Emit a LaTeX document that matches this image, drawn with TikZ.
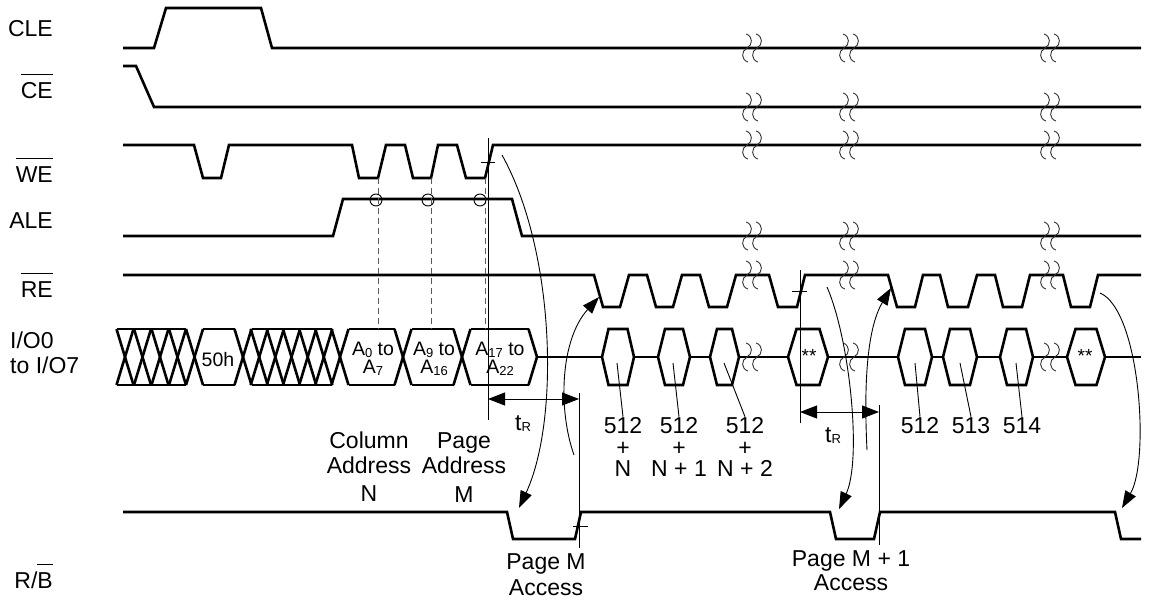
\documentclass[tikz,border=0pt]{standalone}
\usepackage{fontspec}
\setmainfont{Liberation Sans}
\usetikzlibrary{arrows.meta}
\newcommand\sbs[1]{\raisebox{-1.5pt}{\fontsize{13}{13}\selectfont #1}}
\newcommand\ovl[1]{\setbox0\hbox{#1}\rlap{\rule[23pt]{\wd0}{1.1pt}}\box0}
\begin{document}
\begin{tikzpicture}[x=1pt,y=-1pt,
  sig/.style={line width=2.6pt,line join=miter},
  thin/.style={line width=0.9pt},
  lab/.style={inner sep=0pt,font=\fontsize{23}{26}\selectfont},
  boxt/.style={inner sep=0pt,align=center,font=\fontsize{19.5}{18}\selectfont},
  arr/.style={thin,-{Triangle[length=17pt,width=12pt]}},
  darr/.style={thin,{Triangle[length=17pt,width=13pt]}-{Triangle[length=17pt,width=13pt]}},
  brkline/.style={line width=0.9pt,black!80},
  dsh/.style={line width=1pt,black!65,dash pattern=on 6pt off 4pt},
  brk/.pic={
    \draw[brkline] (-6,-14) .. controls (1,-12) and (1,-3) .. (-5,0) .. controls (-11,3) and (-11,12) .. (-4,14);
    \draw[brkline] (4,-14) .. controls (11,-12) and (11,-3) .. (5,0) .. controls (-1,3) and (-1,12) .. (6,14);
  }]
\fill[white] (0,0) rectangle (1149,600);
\useasboundingbox (0,0) rectangle (1149,600);

% signal names
\node[lab,anchor=base east] (lcle) at (53,36) {CLE};
\node[lab,anchor=base east] (lce) at (53,98) {\ovl{CE}};
\node[lab,anchor=base east] (lwe) at (53,182) {\ovl{WE}};
\node[lab,anchor=base east] (lale) at (53,228) {ALE};
\node[lab,anchor=base east] (lre) at (53,297) {\ovl{RE}};
\node[lab,anchor=base west] (lio1) at (10,348) {I/O0};
\node[lab,anchor=base west] (lio2) at (10,373) {to I/O7};
\node[lab,anchor=base east] (lrb) at (53,588) {R/\ovl{B}};

% signals
\draw[sig] (123,48) -- (154,48) -- (166,8) -- (261,8) -- (272,48) -- (1141,48);
\draw[sig] (123,66) -- (136,66) -- (154,107) -- (1141,107);
\draw[sig] (123,145) -- (194,145) -- (203,178) -- (221,178) -- (229,145) -- (352,145) -- (359,178) -- (378,178) -- (386,145) -- (405,145) -- (413,178) -- (431,178) -- (438,145) -- (457,145) -- (466,178) -- (485,178) -- (493,145) -- (1141,145);
\draw[sig] (123,236) -- (333,236) -- (343,199) -- (512,199) -- (522,236) -- (1141,236);
\draw[sig] (123,275) -- (594,275) -- (603,307) -- (620,307) -- (629,275) -- (647,275) -- (656,307) -- (673,307) -- (682,275) -- (700,275) -- (709,307) -- (727,307) -- (736,275) -- (769,275) -- (778,307) -- (797,307) -- (805,275) -- (888,275) -- (897,307) -- (915,307) -- (923,275) -- (940,275) -- (948,307) -- (968,307) -- (977,275) -- (995,275) -- (1003,307) -- (1022,307) -- (1030,275) -- (1063,275) -- (1071,307) -- (1090,307) -- (1098,275) -- (1141,275);
\draw[sig] (123,512) -- (507,512) -- (513,539) -- (575,539) -- (581,512) -- (830,512) -- (836,539) -- (874,539) -- (880,512) -- (1115,512) -- (1121,539) -- (1141,539);

% bus
\foreach \c in {125,142.5,160,177.5,194.5,243,259.2,275.3,291.5,307.7,323.8,340,403,462}{
  \draw[sig] (\c-8.5,329) -- (\c+8.5,385);
  \draw[sig] (\c-8.5,385) -- (\c+8.5,329);
}
\foreach \a/\b in {116.5/186,203/234.5,251.5/331.5,348.5/394.5,411.5/453.5,470.5/528.5}{
  \draw[sig] (\a,329) -- (\b,329);
  \draw[sig] (\a,385) -- (\b,385);
}
\draw[sig] (528.5,329) -- (537,357) -- (528.5,385);
\draw[sig] (537,357) -- (1141,357);
\foreach \l/\r/\s in {602/634/6.5,658/690/7,710/739/7,788/828/8.5,898/932/7,943/977/7,1000/1033/7,1067/1105/8.5}{
  \filldraw[sig,fill=white] (\l,357) -- (\l+\s,329) -- (\r-\s,329) -- (\r,357) -- (\r-\s,385) -- (\l+\s,385) -- cycle;
}

% box texts
\node[boxt,anchor=base] (t50) at (218,366) {50h};
\node[boxt] (ta0) at (373,359) {A\sbs{0} to\\A\sbs{7}};
\node[boxt] (ta9) at (434,359) {A\sbs{9} to\\A\sbs{16}};
\node[boxt] (ta17) at (500,359) {A\sbs{17} to\\A\sbs{22}};
\node[inner sep=0pt,font=\fontsize{19}{19}\selectfont,anchor=base] (st1) at (809,362) {**};
\node[inner sep=0pt,font=\fontsize{19}{19}\selectfont,anchor=base] (st2) at (1085,362) {**};

% break marks
\foreach \x in {752,849,1050}{
  \foreach \y in {48,107,145,236,275,357}{
    \pic at (\x,\y) {brk};
  }
}

% dashed lines and circles
\foreach \x/\cx in {378/376,431/428,485/480}{
  \draw[dsh] (\x,178) -- (\x,329);
  \draw[thin] (\cx,200) circle (6);
}

% vertical reference lines and ticks
\coordinate (v1t) at (488,138); \coordinate (v1b) at (488,420);
\draw[thin] (v1t) -- (v1b);
\draw[thin] (481,162) -- (495,162);
\coordinate (v2t) at (579,393); \coordinate (v2b) at (579,548);
\draw[thin] (v2t) -- (v2b);
\draw[thin] (573,526) -- (588,526);
\coordinate (v3t) at (800,270); \coordinate (v3b) at (800,423);
\draw[thin] (v3t) -- (v3b);
\draw[thin] (792,291) -- (807,291);
\coordinate (v4t) at (879,405); \coordinate (v4b) at (879,545);
\draw[thin] (v4t) -- (v4b);

% tR arrows
\coordinate (r1a) at (488,399); \coordinate (r1b) at (579,399);
\draw[darr] (r1a) -- (r1b);
\coordinate (r2a) at (800,412); \coordinate (r2b) at (879,412);
\draw[darr] (r2a) -- (r2b);
\node[lab,anchor=base west] (tr1) at (515,430) {t\sbs{R}};
\node[lab,anchor=base west] (tr2) at (825,442) {t\sbs{R}};

% curved arrows
\coordinate (ca0) at (502,155); \coordinate (ca1) at (519,508);
\draw[arr] (ca0) .. controls (555,250) and (560,420) .. (ca1);
\coordinate (cb0) at (574,455); \coordinate (cb1) at (599,297);
\draw[arr] (cb0) .. controls (558,410) and (560,340) .. (cb1);
\coordinate (cc0) at (827,287); \coordinate (cc1) at (839,509);
\draw[arr] (cc0) .. controls (850,340) and (862,460) .. (cc1);
\coordinate (cd0) at (867,450); \coordinate (cd1) at (891,288);
\draw[arr] (cd0) .. controls (864,390) and (866,330) .. (cd1);
\coordinate (ce0) at (1100,293); \coordinate (ce1) at (1122,508);
\draw[arr] (ce0) .. controls (1140,310) and (1150,460) .. (ce1);

% data labels
\node[lab,anchor=base] (d1a) at (623,433) {512};
\node[lab,anchor=base] (d1b) at (623,455) {+};
\node[lab,anchor=base] (d1c) at (623,476) {N};
\node[lab,anchor=base] (d2a) at (679,433) {512};
\node[lab,anchor=base] (d2b) at (679,455) {+};
\node[lab,anchor=base] (d2c) at (679,476) {N + 1};
\node[lab,anchor=base] (d3a) at (745,433) {512};
\node[lab,anchor=base] (d3b) at (745,455) {+};
\node[lab,anchor=base] (d3c) at (745,476) {N + 2};
\node[lab,anchor=base] (e1) at (920,433) {512};
\node[lab,anchor=base] (e2) at (971,433) {513};
\node[lab,anchor=base] (e3) at (1022,433) {514};
\draw[thin] (617,363) -- (d1a.north);
\draw[thin] (673,363) -- (d2a.north);
\draw[thin] (724,363) -- (d3a.north);
\draw[thin] (915,363) -- (e1.north);
\draw[thin] (960,363) -- (e2.north);
\draw[thin] (1016,363) -- (e3.north);

\node[lab,anchor=base] (ca) at (369,448) {Column};
\node[lab,anchor=base] (cb) at (369,473) {Address};
\node[lab,anchor=base] (cc) at (369,501) {N};
\node[lab,anchor=base] (pa) at (464,448) {Page};
\node[lab,anchor=base] (pb) at (464,473) {Address};
\node[lab,anchor=base] (pc) at (464,502) {M};
\node[lab,anchor=base] (ma) at (546,569) {Page M};
\node[lab,anchor=base] (mb) at (546,595) {Access};
\node[lab,anchor=base] (na) at (851,566) {Page M + 1};
\node[lab,anchor=base] (nb) at (851,590) {Access};
\end{tikzpicture}
\end{document}
